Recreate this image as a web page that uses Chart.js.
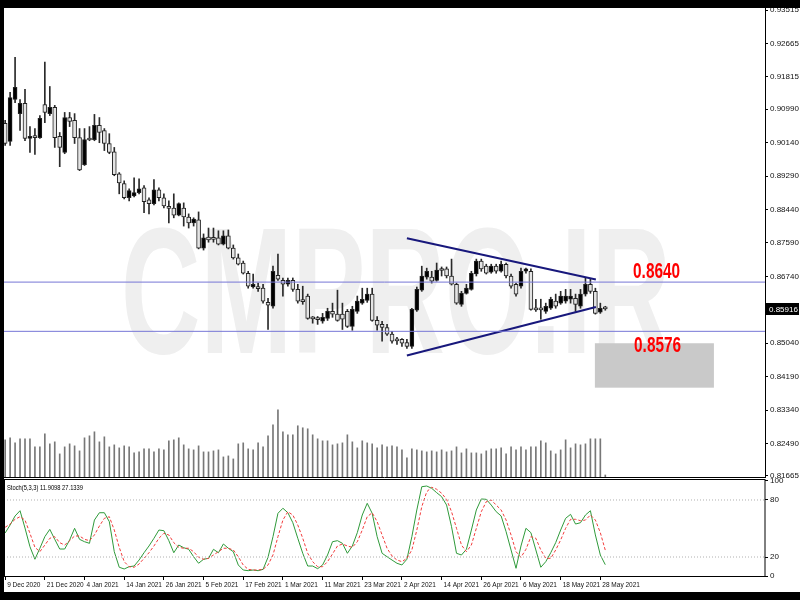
<!DOCTYPE html>
<html>
<head>
<meta charset="utf-8">
<script src="https://cdn.jsdelivr.net/npm/chart.js@4.4.1/dist/chart.umd.min.js"></script>
<style>
html, body { margin: 0; padding: 0; background: #000; }
#page { position: relative; width: 800px; height: 600px; background: #000; overflow: hidden; }
#paper { position: absolute; left: 4px; top: 8px; width: 796px; height: 584px; background: #fff; }
#mainWrap { position: absolute; left: 4px; top: 8px; }
#stochWrap { position: absolute; left: 4px; top: 478px; }
</style>
</head>
<body>
<div id="page">
  <div id="paper"></div>
  <div id="mainWrap"><canvas id="mainChart" width="796" height="470"></canvas></div>
  <div id="stochWrap"><canvas id="stochChart" width="796" height="114"></canvas></div>
</div>
<script>
// daily bars, 10 Dec 2020 .. 31 May 2021 (bar index 1 = 9 Dec tick)
const firstBar = 1;
const opens = [
  0.9063, 0.9017, 0.9124, 0.9088, 0.9114, 0.9025, 0.9030, 0.9027, 0.9111, 0.9088,
  0.9104, 0.9030, 0.8989, 0.9078, 0.9071, 0.9027, 0.8958, 0.9022, 0.9022, 0.9058,
  0.9045, 0.9012, 0.8991, 0.8935, 0.8910, 0.8874, 0.8879, 0.8887, 0.8899, 0.8869,
  0.8859, 0.8894, 0.8874, 0.8848, 0.8848, 0.8830, 0.8848, 0.8825, 0.8810, 0.8818,
  0.8746, 0.8774, 0.8769, 0.8772, 0.8756, 0.8777, 0.8746, 0.8721, 0.8708, 0.8682,
  0.8647, 0.8644, 0.8644, 0.8608, 0.8598, 0.8677, 0.8664, 0.8654, 0.8664, 0.8641,
  0.8611, 0.8624, 0.8567, 0.8565, 0.8560, 0.8567, 0.8585, 0.8578, 0.8578, 0.8585,
  0.8547, 0.8585, 0.8606, 0.8613, 0.8629, 0.8562, 0.8552, 0.8544, 0.8527, 0.8511,
  0.8514, 0.8506, 0.8496, 0.8588, 0.8639, 0.8672, 0.8672, 0.8664, 0.8690, 0.8693,
  0.8675, 0.8654, 0.8603, 0.8631, 0.8641, 0.8680, 0.8713, 0.8700, 0.8685, 0.8700,
  0.8687, 0.8705, 0.8675, 0.8654, 0.8649, 0.8687, 0.8687, 0.8590, 0.8590, 0.8585,
  0.8593, 0.8611, 0.8606, 0.8611, 0.8616, 0.8618, 0.8598, 0.8629, 0.8654, 0.8636,
  0.8583, 0.8592
];
const highs = [
  0.9071, 0.9142, 0.9231, 0.9124, 0.9150, 0.9055, 0.9050, 0.9083, 0.9219, 0.9157,
  0.9109, 0.9040, 0.9091, 0.9091, 0.9088, 0.9050, 0.9050, 0.9055, 0.9086, 0.9078,
  0.9050, 0.9037, 0.9002, 0.8938, 0.8917, 0.8897, 0.8925, 0.8922, 0.8905, 0.8874,
  0.8920, 0.8899, 0.8884, 0.8866, 0.8884, 0.8861, 0.8861, 0.8833, 0.8823, 0.8838,
  0.8782, 0.8797, 0.8797, 0.8790, 0.8790, 0.8792, 0.8754, 0.8731, 0.8713, 0.8687,
  0.8680, 0.8657, 0.8654, 0.8618, 0.8700, 0.8731, 0.8670, 0.8670, 0.8670, 0.8654,
  0.8649, 0.8629, 0.8572, 0.8572, 0.8580, 0.8593, 0.8606, 0.8639, 0.8606, 0.8590,
  0.8598, 0.8624, 0.8644, 0.8644, 0.8644, 0.8572, 0.8560, 0.8552, 0.8534, 0.8519,
  0.8516, 0.8514, 0.8593, 0.8647, 0.8700, 0.8695, 0.8687, 0.8708, 0.8698, 0.8698,
  0.8718, 0.8657, 0.8636, 0.8654, 0.8687, 0.8718, 0.8718, 0.8705, 0.8705, 0.8705,
  0.8713, 0.8708, 0.8680, 0.8657, 0.8695, 0.8695, 0.8693, 0.8616, 0.8616, 0.8606,
  0.8621, 0.8629, 0.8636, 0.8641, 0.8641, 0.8629, 0.8641, 0.8670, 0.8667, 0.8644,
  0.8606, 0.8598
];
const lows = [
  0.9007, 0.9007, 0.9116, 0.9045, 0.9019, 0.8989, 0.8984, 0.9025, 0.9065, 0.9083,
  0.9002, 0.8953, 0.8986, 0.9055, 0.9012, 0.8943, 0.8956, 0.9019, 0.9019, 0.9014,
  0.8994, 0.8986, 0.8930, 0.8884, 0.8871, 0.8866, 0.8876, 0.8884, 0.8836, 0.8833,
  0.8856, 0.8866, 0.8848, 0.8810, 0.8823, 0.8828, 0.8802, 0.8797, 0.8802, 0.8744,
  0.8741, 0.8761, 0.8761, 0.8754, 0.8754, 0.8744, 0.8718, 0.8703, 0.8680, 0.8644,
  0.8644, 0.8636, 0.8606, 0.8539, 0.8593, 0.8664, 0.8624, 0.8649, 0.8636, 0.8606,
  0.8603, 0.8565, 0.8555, 0.8552, 0.8555, 0.8562, 0.8570, 0.8560, 0.8539, 0.8544,
  0.8537, 0.8580, 0.8603, 0.8608, 0.8560, 0.8537, 0.8509, 0.8524, 0.8504, 0.8501,
  0.8496, 0.8491, 0.8491, 0.8585, 0.8636, 0.8667, 0.8657, 0.8662, 0.8675, 0.8670,
  0.8652, 0.8603, 0.8598, 0.8629, 0.8639, 0.8675, 0.8687, 0.8680, 0.8682, 0.8682,
  0.8685, 0.8670, 0.8644, 0.8624, 0.8644, 0.8682, 0.8588, 0.8585, 0.8565, 0.8580,
  0.8590, 0.8593, 0.8603, 0.8606, 0.8606, 0.8585, 0.8593, 0.8624, 0.8631, 0.8578,
  0.8580, 0.8588
];
const closes = [
  0.9012, 0.9129, 0.9155, 0.9114, 0.9025, 0.9030, 0.9027, 0.9076, 0.9091, 0.9104,
  0.9027, 0.9002, 0.9078, 0.9068, 0.9027, 0.8945, 0.9022, 0.9021, 0.9058, 0.9040,
  0.9012, 0.8989, 0.8933, 0.8912, 0.8874, 0.8892, 0.8887, 0.8897, 0.8864, 0.8859,
  0.8894, 0.8874, 0.8853, 0.8847, 0.8830, 0.8859, 0.8825, 0.8810, 0.8820, 0.8746,
  0.8772, 0.8767, 0.8768, 0.8756, 0.8777, 0.8746, 0.8721, 0.8705, 0.8682, 0.8649,
  0.8654, 0.8643, 0.8611, 0.8601, 0.8687, 0.8667, 0.8654, 0.8664, 0.8641, 0.8611,
  0.8610, 0.8567, 0.8566, 0.8564, 0.8570, 0.8585, 0.8578, 0.8562, 0.8565, 0.8547,
  0.8590, 0.8611, 0.8616, 0.8629, 0.8562, 0.8550, 0.8544, 0.8527, 0.8509, 0.8510,
  0.8504, 0.8496, 0.8590, 0.8641, 0.8675, 0.8687, 0.8662, 0.8690, 0.8689, 0.8675,
  0.8654, 0.8606, 0.8631, 0.8644, 0.8682, 0.8713, 0.8693, 0.8682, 0.8700, 0.8687,
  0.8705, 0.8675, 0.8649, 0.8629, 0.8687, 0.8693, 0.8590, 0.8589, 0.8589, 0.8598,
  0.8616, 0.8598, 0.8624, 0.8624, 0.8624, 0.8603, 0.8629, 0.8654, 0.8636, 0.8580,
  0.8593, 0.85916
];
const volumes = [
  38, 40, 35, 39, 39, 39, 31, 31, 44, 34, 36, 24, 31, 34, 32, 27, 40, 42, 46, 36,
  41, 31, 33, 30, 32, 31, 25, 26, 29, 29, 26, 29, 28, 37, 38, 40, 33, 29, 28, 32,
  26, 26, 27, 28, 21, 22, 19, 34, 35, 29, 28, 35, 31, 42, 53, 68, 46, 43, 43, 52,
  50, 49, 43, 39, 37, 37, 33, 34, 35, 43, 36, 30, 37, 35, 34, 30, 33, 31, 32, 31,
  28, 20, 29, 28, 27, 26, 27, 26, 28, 26, 27, 31, 25, 29, 25, 25, 24, 27, 29, 29,
  30, 24, 31, 28, 31, 28, 31, 31, 37, 35, 27, 24, 28, 38, 30, 34, 33, 34, 39, 39,
  39, 3
];
const stochK = [
  45.3, 53.7, 63.2, 68.7, 50.5, 30.8, 17.6, 29.2, 41.4, 49.1,
  38.6, 28.4, 28.4, 37.9, 50.2, 38.6, 36.1, 34.4, 58.9, 66.6,
  66.6, 57.2, 25.6, 9.2, 7.4, 9.8, 10.5, 16.8, 24.5, 31.6,
  39.7, 48.4, 47.7, 37.2, 24.5, 32.6, 29.8, 28.1, 20.3, 13.4,
  17.6, 18.6, 28.1, 24.5, 33.7, 29.2, 25.6, 11.6, 6.3, 5.6,
  6.3, 5.6, 7.0, 19.7, 41.4, 66.0, 71.3, 66.6, 56.1, 39.7,
  23.9, 10.5, 10.5, 7.7, 11.6, 22.1, 36.1, 37.2, 34.4, 23.9,
  31.6, 45.6, 64.2, 76.5, 66.0, 41.4, 23.9, 20.3, 16.8, 13.4,
  11.6, 17.6, 41.4, 69.5, 94.0, 94.7, 92.3, 87.7, 83.5, 74.7,
  51.9, 23.9, 22.1, 28.1, 48.4, 69.5, 81.1, 80.7, 74.7, 67.7,
  63.2, 46.6, 27.4, 8.1, 31.6, 50.2, 45.6, 27.4, 9.2, 15.1,
  24.5, 35.1, 48.4, 60.7, 64.9, 54.7, 56.1, 64.2, 68.7, 43.2,
  22.1, 11.9
];
const stochD = [
  51.3, 54.7, 59.7, 62.4, 58.9, 44.9, 30.2, 25.6, 32.6, 39.7,
  41.4, 35.1, 32.6, 37.2, 42.1, 42.1, 38.6, 37.2, 43.2, 52.6,
  60.7, 62.4, 48.4, 30.2, 15.1, 9.8, 9.2, 12.6, 18.6, 24.5,
  31.6, 39.7, 44.9, 43.2, 35.1, 30.2, 29.2, 29.2, 25.6, 19.7,
  17.6, 18.6, 22.1, 25.6, 29.2, 29.2, 27.4, 20.3, 11.6, 7.0,
  6.3, 6.3, 7.0, 11.6, 22.1, 41.4, 58.9, 67.7, 64.2, 53.7,
  39.7, 23.9, 15.1, 9.8, 9.8, 15.1, 23.2, 31.6, 33.7, 31.6,
  30.2, 36.1, 48.4, 62.4, 66.6, 57.2, 43.2, 29.2, 21.1, 16.8,
  15.1, 18.6, 27.4, 48.4, 72.9, 88.7, 93.4, 91.3, 87.1, 80.7,
  67.7, 50.2, 32.6, 25.6, 32.6, 50.2, 67.7, 78.2, 80.0, 74.7,
  69.5, 58.9, 43.2, 25.6, 19.7, 28.1, 41.4, 39.7, 27.4, 18.6,
  18.6, 27.4, 37.9, 50.2, 59.7, 59.7, 58.2, 58.9, 64.2, 58.9,
  45.6, 27.1
];

const priceTicks = [0.93515, 0.92665, 0.91815, 0.90990, 0.90140, 0.89290, 0.88440,
  0.87590, 0.86740, 0.85040, 0.84190, 0.83340, 0.82490, 0.81665];
const lastPrice = 0.85916;
const stochTicks = [100, 80, 20, 0];
const stochLevels = [80, 20];
const stochTitle = 'Stoch(5,3,3) 11.9098 27.1339';
const dateTickBars = [1, 9, 17, 25, 33, 41, 49, 57, 65, 73, 81, 89, 97, 105, 113, 121];
const dateTickLabels = ['9 Dec 2020', '21 Dec 2020', '4 Jan 2021', '14 Jan 2021', '26 Jan 2021',
  '5 Feb 2021', '17 Feb 2021', '1 Mar 2021', '11 Mar 2021', '23 Mar 2021', '2 Apr 2021',
  '14 Apr 2021', '26 Apr 2021', '6 May 2021', '18 May 2021', '28 May 2021'];

// drawn objects
const levelLines = [0.86595, 0.85343];
const levelTexts = ['0.8640', '0.8576'];
const levelTextAt = [[127.6, 0.8670], [127.8, 0.8483]];
const upperTrend = [[82.0, 0.8771], [120.1, 0.8666]];
const lowerTrend = [[82.0, 0.8473], [120.1, 0.8596]];
const targetZone = [119.9, 143.9, 0.8504, 0.8391]; // x0, x1, top, bottom
const watermark = 'CMPRO.IR';

// visible window
const xMin = 0.766, xMax = 154.2;
const FONT = '"Liberation Sans", Arial, sans-serif';
Chart.defaults.font.family = FONT;
Chart.defaults.color = '#000';

const bars = opens.map((_, k) => firstBar + k);
const isUp = bars.map((_, k) => closes[k] >= opens[k]);

function hLine(v) { return [{ x: xMin, y: v }, { x: xMax, y: v }]; }
function pts(a) { return a.map(p => ({ x: p[0], y: p[1] })); }

function fixY(w) {
  return function (s) { s.width = w; s.paddingTop = 0; s.paddingBottom = 0; };
}

const mainDecor = {
  id: 'mainDecor',
  beforeDatasetsDraw(chart) {
    const { ctx, chartArea: a } = chart;
    ctx.save();
    ctx.beginPath();
    ctx.rect(a.left, a.top, a.width, a.height);
    ctx.clip();
    ctx.font = 'bold 180px ' + FONT;
    const w = ctx.measureText(watermark).width;
    ctx.translate(392, 345);
    ctx.scale(550 / w, 1);
    ctx.textAlign = 'center';
    ctx.fillStyle = '#efefef';
    ctx.fillText(watermark, 0, 0);
    ctx.restore();
  },
  afterDatasetsDraw(chart) {
    const { ctx, scales: { x, y } } = chart;
    ctx.save();
    const zx0 = x.getPixelForValue(targetZone[0]), zx1 = x.getPixelForValue(targetZone[1]);
    const zy0 = y.getPixelForValue(targetZone[2]), zy1 = y.getPixelForValue(targetZone[3]);
    ctx.fillStyle = '#c9c9c9';
    ctx.fillRect(zx0, zy0, zx1 - zx0, zy1 - zy0);

    ctx.font = 'bold 22px ' + FONT;
    ctx.fillStyle = '#ff0000';
    levelTexts.forEach((t, k) => {
      const w = ctx.measureText(t).width;
      ctx.save();
      ctx.translate(x.getPixelForValue(levelTextAt[k][0]), y.getPixelForValue(levelTextAt[k][1]));
      ctx.scale(47 / w, 1);
      ctx.fillText(t, 0, 0);
      ctx.restore();
    });
    ctx.restore();
  },
  afterDraw(chart) {
    const { ctx, chartArea: a, scales: { y } } = chart;
    ctx.save();
    ctx.strokeStyle = '#000';
    ctx.lineWidth = 1;
    ctx.beginPath();
    ctx.moveTo(Math.round(a.right) + 0.5, a.top);
    ctx.lineTo(Math.round(a.right) + 0.5, a.bottom);
    ctx.moveTo(a.left, Math.round(a.bottom) - 0.5);
    ctx.lineTo(a.right, Math.round(a.bottom) - 0.5);
    ctx.stroke();
    // current price tag
    const py = Math.round(y.getPixelForValue(lastPrice));
    ctx.fillStyle = '#000';
    ctx.fillRect(a.right + 1, py - 6, 33, 12);
    ctx.fillStyle = '#fff';
    ctx.font = '8px ' + FONT;
    ctx.textBaseline = 'middle';
    ctx.fillText(lastPrice.toFixed(5), a.right + 4, py + 0.5);
    ctx.restore();
  }
};

new Chart(document.getElementById('mainChart'), {
  type: 'bar',
  data: {
    datasets: [
      {
        type: 'line', order: 0,
        data: hLine(levelLines[0]), borderColor: '#7676d6', borderWidth: 1, pointRadius: 0
      },
      {
        type: 'line', order: 0,
        data: hLine(levelLines[1]), borderColor: '#7676d6', borderWidth: 1, pointRadius: 0
      },
      {
        type: 'line', order: 0,
        data: pts(upperTrend), borderColor: '#18187c', borderWidth: 2, pointRadius: 0
      },
      {
        type: 'line', order: 0,
        data: pts(lowerTrend), borderColor: '#18187c', borderWidth: 2, pointRadius: 0
      },
      {
        // bodies
        order: 1, grouped: false, barThickness: 4, minBarLength: 2,
        data: bars.map((b, k) => ({ x: b, y: [opens[k], closes[k]] })),
        backgroundColor: isUp.map(u => u ? '#000' : '#e4e4e4'),
        borderColor: '#222', borderWidth: 1, borderSkipped: false
      },
      {
        // wicks
        order: 2, grouped: false, barThickness: 1,
        data: bars.map((b, k) => ({ x: b, y: [lows[k], highs[k]] })),
        backgroundColor: '#2a2a2a'
      },
      {
        // volume
        order: 3, grouped: false, barThickness: 1, yAxisID: 'yv',
        data: bars.map((b, k) => ({ x: b, y: volumes[k] })),
        backgroundColor: '#777'
      }
    ]
  },
  options: {
    responsive: false, animation: false, events: [],
    layout: { padding: 0, autoPadding: false },
    plugins: { legend: { display: false }, tooltip: { enabled: false } },
    scales: {
      x: { type: 'linear', min: xMin, max: xMax, display: false, offset: false },
      y: {
        position: 'right', min: 0.81613, max: 0.93566,
        afterBuildTicks: s => { s.ticks = priceTicks.map(v => ({ value: v })); },
        afterFit: fixY(35),
        ticks: { font: { size: 8 }, color: '#111', padding: 2, callback: v => v.toFixed(5) },
        grid: { drawOnChartArea: false, tickLength: 3, color: '#000' },
        border: { display: false }
      },
      yv: { display: false, min: 0, max: 468 }
    }
  },
  plugins: [mainDecor]
});

const stochDecor = {
  id: 'stochDecor',
  afterDraw(chart) {
    const { ctx, chartArea: a } = chart;
    ctx.save();
    ctx.strokeStyle = '#000';
    ctx.lineWidth = 1;
    ctx.strokeRect(a.left + 0.5, Math.round(a.top) + 0.5, Math.round(a.width) - 0.5, Math.round(a.height) - 1);
    ctx.font = '7px ' + FONT;
    ctx.fillStyle = '#000';
    ctx.textBaseline = 'middle';
    const w = ctx.measureText(stochTitle).width;
    ctx.translate(a.left + 3, a.top + 9);
    ctx.scale(76 / w, 1);
    ctx.fillText(stochTitle, 0, 0);
    ctx.restore();
  }
};

new Chart(document.getElementById('stochChart'), {
  type: 'line',
  data: {
    datasets: [
      ...stochLevels.map(l => ({
        data: hLine(l), borderColor: '#b0b0b0', borderWidth: 1, borderDash: [1, 2], pointRadius: 0
      })),
      {
        data: bars.map((b, k) => ({ x: b, y: stochD[k] })),
        borderColor: '#f23c3c', borderWidth: 1, borderDash: [3, 2], pointRadius: 0
      },
      {
        data: bars.map((b, k) => ({ x: b, y: stochK[k] })),
        borderColor: '#2f9a3a', borderWidth: 1, pointRadius: 0
      }
    ]
  },
  options: {
    responsive: false, animation: false, events: [],
    layout: { padding: { top: 1 }, autoPadding: false },
    plugins: { legend: { display: false }, tooltip: { enabled: false } },
    scales: {
      x: {
        type: 'linear', min: xMin, max: xMax, offset: false,
        afterBuildTicks: s => { s.ticks = dateTickBars.map(v => ({ value: v })); },
        afterFit: s => { s.height = 15; s.paddingLeft = 0; s.paddingRight = 0; },
        ticks: {
          font: { size: 6.5 }, color: '#111', align: 'start', labelOffset: 2, padding: 1,
          autoSkip: false, maxRotation: 0, minRotation: 0,
          callback: v => dateTickLabels[dateTickBars.indexOf(v)]
        },
        grid: { drawOnChartArea: false, tickLength: 3, color: '#000' },
        border: { display: false }
      },
      y: {
        position: 'right', min: -1.05, max: 102.1,
        afterBuildTicks: s => { s.ticks = stochTicks.map(v => ({ value: v })); },
        afterFit: fixY(35),
        ticks: { font: { size: 8 }, color: '#111', padding: 2 },
        grid: { drawOnChartArea: false, tickLength: 3, color: '#000' },
        border: { display: false }
      }
    }
  },
  plugins: [stochDecor]
});
</script>
</body>
</html>
